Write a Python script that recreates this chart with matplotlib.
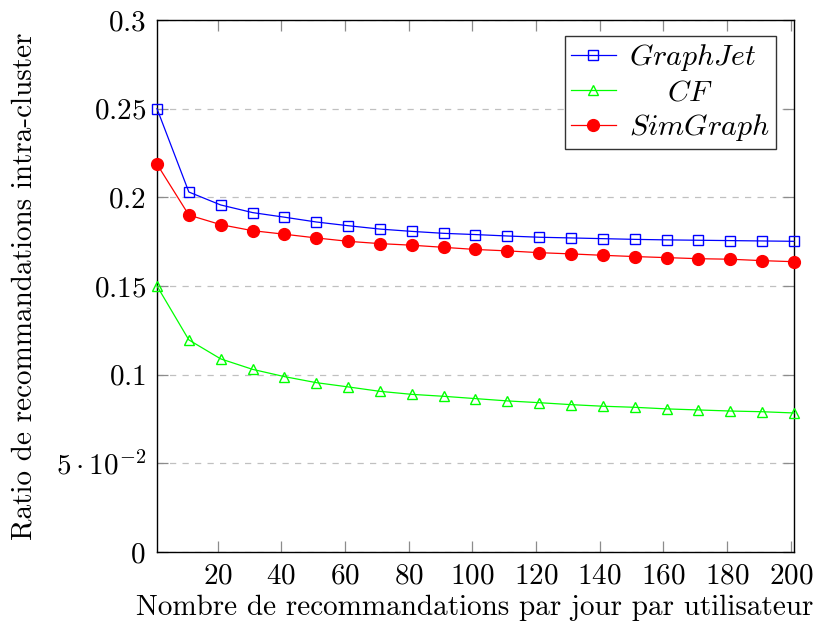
import matplotlib
matplotlib.use("Agg")
import matplotlib.pyplot as plt
from matplotlib.ticker import FixedLocator, FixedFormatter

plt.rcParams['font.family'] = 'serif'
plt.rcParams['font.serif'] = ['cmr10', 'DejaVu Serif']
plt.rcParams['mathtext.fontset'] = 'cm'
plt.rcParams['axes.unicode_minus'] = False

x = [1, 11, 21, 31, 41, 51, 61, 71, 81, 91, 101, 111, 121, 131, 141, 151, 161, 171, 181, 191, 201]
graphjet = [0.250, 0.203, 0.1957, 0.1914, 0.1888, 0.1861, 0.1840, 0.1821, 0.1808, 0.1797, 0.1790,
            0.1782, 0.1775, 0.1771, 0.1767, 0.1763, 0.1760, 0.1758, 0.1756, 0.1754, 0.1752]
cf = [0.150, 0.1196, 0.1089, 0.1030, 0.0989, 0.0955, 0.0931, 0.0906, 0.0889, 0.0878, 0.0865,
      0.0852, 0.0842, 0.0831, 0.0822, 0.0816, 0.0807, 0.0801, 0.0795, 0.0791, 0.0784]
simgraph = [0.2187, 0.190, 0.1846, 0.1812, 0.1792, 0.1771, 0.1752, 0.1739, 0.1730, 0.1718, 0.1706,
            0.1698, 0.1688, 0.1681, 0.1673, 0.1666, 0.1660, 0.1654, 0.1651, 0.1643, 0.1637]

xticks = [20, 40, 60, 80, 100, 120, 140, 160, 180, 200]
yticks = [0, 0.05, 0.1, 0.15, 0.2, 0.25, 0.3]
ytick_labels = [r'$0$', r'$5\cdot10^{-2}$', r'$0.1$', r'$0.15$', r'$0.2$', r'$0.25$', r'$0.3$']

fig = plt.figure(figsize=(8.14, 6.25), dpi=100)
ax = fig.add_axes([157/814, 1-552/625, (794-157)/814, (552-20)/625])

ax.plot(x, graphjet, color=(0, 0, 1), lw=0.9, marker='s', markersize=7.5,
        markerfacecolor='none', markeredgecolor=(0, 0, 1), markeredgewidth=1.0,
        label=r'$GraphJet$', zorder=3, clip_on=False)
ax.plot(x, cf, color=(0, 1, 0), lw=0.9, marker='^', markersize=7.5,
        markerfacecolor='none', markeredgecolor=(0, 1, 0), markeredgewidth=1.0,
        label=r'$\hspace{1.45}CF$', zorder=3, clip_on=False)
ax.plot(x, simgraph, color=(1, 0, 0), lw=0.9, marker='o', markersize=8.5,
        markerfacecolor=(1, 0, 0), markeredgecolor=(1, 0, 0),
        label=r'$SimGraph$', zorder=3, clip_on=False)

ax.set_xlim(1, 201)
ax.set_ylim(0, 0.3)
ax.xaxis.set_major_locator(FixedLocator(xticks))
ax.xaxis.set_major_formatter(FixedFormatter([r'$%d$' % t for t in xticks]))
ax.yaxis.set_major_locator(FixedLocator(yticks))
ax.yaxis.set_major_formatter(FixedFormatter(ytick_labels))

ax.tick_params(axis='both', direction='in', length=8, width=0.9, color='#8c8c8c',
               labelsize=21, top=True, right=True)
ax.tick_params(axis='x', pad=8)
ax.tick_params(axis='y', pad=8)

ax.yaxis.grid(True, linestyle=(0, (5, 5)), color='#c0c0c0', lw=0.9)
ax.set_axisbelow(True)
for s in ax.spines.values():
    s.set_linewidth(1.0)
    s.set_color('black')

fig.text(475/814, 1-608/625, 'Nombre de recommandations par jour par utilisateur',
         ha='center', va='center', fontsize=21)
fig.text(24/814, 1-(33+540)/2/625, 'Ratio de recommandations intra-cluster',
         ha='center', va='center', rotation=90, fontsize=21)

leg = ax.legend(loc='upper right', bbox_to_anchor=((776-157)/637, 1-16/532),
                borderaxespad=0, fontsize=21.5, frameon=True, fancybox=False,
                edgecolor='#333333', framealpha=1, handlelength=1.5,
                handletextpad=0.45, labelspacing=0.2, borderpad=0.2)
leg.get_frame().set_linewidth(1.0)

fig.savefig('out.png', dpi=100)
